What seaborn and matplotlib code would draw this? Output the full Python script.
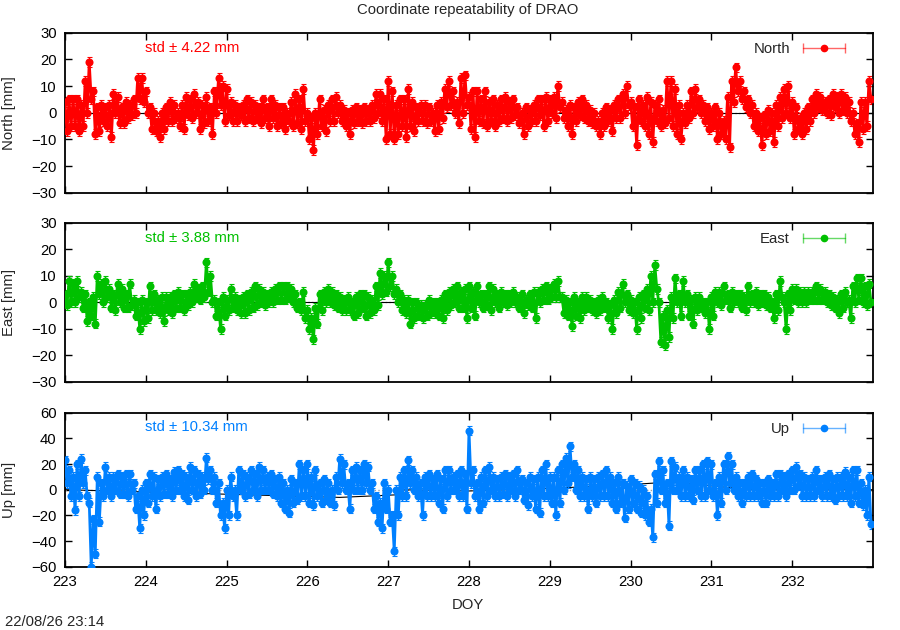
import numpy as np
import pandas as pd
import matplotlib
matplotlib.use('Agg')
import matplotlib.pyplot as plt
import seaborn as sns
from matplotlib.lines import Line2D
from matplotlib.legend_handler import HandlerLine2D, HandlerTuple

# sample bins of 0.05 day, upper / lower values of the band read per bin (mm)
day_start, day_step = 223.0, 0.05

north_hi = [4, 5, 5, 5, 3, 12, 19, 8, 2, 3, 2, 3, 7, 6, 2, 4, 3, 5, 13, 13,
            8, 2, 0, -3, 0, 2, 4, 3, 0, 3, 6, 5, 7, 4, 3, 6, 2, 8, 13, 10,
            9, 4, 3, 2, 3, 5, 4, 3, 2, 5, 2, 5, 3, 2, 2, 0, 4, 7, 5, 9,
            0, -2, 0, 5, 1, 3, 5, 6, 3, 1, 0, 1, 2, 1, 2, 1, 3, 7, 7, 5,
            12, 8, 3, 5, 5, 9, 4, 2, 3, 3, 2, 0, 3, 4, 9, 12, 8, 4, 13, 14,
            6, 8, 8, 5, 8, 4, 5, 3, 5, 6, 4, 5, 2, 0, 2, 1, 3, 5, 5, 6,
            5, 6, 10, 4, 1, 3, 2, 4, 5, 3, 1, 0, -3, 0, 2, 1, 3, 5, 7, 10,
            4, 2, 5, 3, 6, 4, 3, 5, 1, 12, 12, 9, 3, 0, 3, 8, 9, 5, 3, 2,
            0, 2, 0, -3, 6, 12, 17, 12, 8, 5, 3, 0, -2, -1, 1, 0, 3, 6, 9, 10,
            4, 2, -2, 0, 2, 5, 7, 6, 4, 5, 7, 6, 7, 6, 4, 0, -4, 4, 4, 12]
north_lo = [-7, -5, -5, -7, -5, 0, 5, -8, -7, -3, -5, -9, 0, -4, -4, -2, -1, 0, 5, 4,
            0, -6, -7, -9, -6, -3, -3, -2, -5, -6, -1, -2, 0, -6, -4, -3, -8, 0, 3, -3,
            -1, -3, -3, -1, -3, -2, -3, -2, -4, -2, -5, -2, -5, -4, -6, -3, -5, -4, -6, -3,
            -10, -14, -8, -5, -7, -3, -3, 0, -3, -5, -8, -4, -3, -4, -3, -3, -2, 0, -3, -10,
            -8, -10, -8, -5, -9, -5, -7, -3, -3, -4, -3, -7, -6, -2, 2, 3, 0, -4, 0, 3,
            -6, -9, -3, -4, -5, -3, -5, -3, -2, -3, -2, -1, -4, -8, -5, -3, -3, -1, -5, -3,
            0, -2, 2, -2, -5, -8, -3, -1, -2, -3, -4, -5, -8, -5, -3, -7, -2, -2, 0, 3,
            -5, -12, -3, -5, -8, -11, -3, -5, -4, -2, -5, -8, -10, -4, -2, 0, 2, 0, -3, -6,
            -5, -10, -8, -10, -13, 4, 8, 5, 2, 0, -5, -7, -12, -8, -7, -11, -5, -2, 0, -2,
            -8, -6, -8, -6, -3, 0, 2, 1, 0, -1, 2, 0, 1, 0, -3, -8, -11, -6, -5, 5]

east_hi = [3, 8, 7, 8, 4, 3, 0, 2, 10, 7, 8, 5, 3, 7, 5, 3, 7, 1, 0, 1,
           0, 6, 3, 1, 2, 2, 2, 3, 4, 3, 3, 4, 7, 5, 6, 15, 10, 1, 0, 2,
           1, 5, 2, 1, 2, 3, 4, 6, 5, 4, 3, 4, 5, 6, 6, 6, 5, 3, 0, 4,
           -3, -6, -2, 3, 4, 5, 4, 3, 2, 1, 2, 0, 2, 3, 3, 2, 1, 6, 11, 10,
           15, 10, 5, 3, 1, 1, 0, 0, -1, -1, 1, 0, 0, 1, 3, 4, 5, 6, 4, 5,
           6, 4, 6, 3, 3, 6, 5, 3, 4, 3, 3, 4, 2, 3, 1, 3, 4, 4, 5, 6,
           5, 7, 8, 2, 1, 0, 2, 0, 2, 2, 1, 0, 1, 2, 0, -1, 1, 4, 7, 3,
           1, 0, 2, 3, 5, 10, 14, 0, -5, -3, 2, 9, 3, 8, 3, 1, 2, 2, 0, 0,
           2, 4, 4, 6, 3, 4, 3, 3, 2, 6, 3, 4, 3, 3, 2, 0, 3, 8, 0, 3,
           5, 5, 4, 4, 4, 4, 6, 5, 4, 3, 2, 1, 3, 4, 1, 6, 9, 9, 6, 7]
east_lo = [-1, 0, 0, 2, -2, -7, -5, -8, 3, 0, 2, -2, -3, 0, -2, -2, -1, -5, -10, -7,
           -6, -3, -3, -4, -7, -3, -4, -2, -2, -3, -1, 0, 2, 1, 2, 4, 0, -5, -10, -5,
           -3, -2, -3, -4, -4, -3, -2, -1, 0, -1, 0, 0, 1, 1, 1, 2, 0, -2, -3, -6,
           -10, -14, -8, -3, 0, 0, -1, -2, -3, -3, -3, -5, -4, -2, -5, -4, -3, -1, 3, 4,
           6, 3, 0, -3, -4, -8, -6, -5, -6, -5, -4, -4, -5, -6, -3, -1, 0, -2, -2, -6,
           -2, -5, 0, -2, -1, -3, 0, -2, 0, -1, 0, 0, -2, -4, -1, -2, -6, 0, 1, 1,
           2, 2, 2, -4, -5, -9, -5, -6, -3, -2, -3, -4, -3, -2, -6, -10, -4, -2, 0, -3,
           -4, -10, -6, -2, -3, 0, 5, -15, -16, -13, -6, 0, -5, 0, -5, -8, -3, -2, -4, -10,
           -5, 0, -1, 1, -2, 0, 0, -2, -3, 0, 0, -1, 0, -1, -2, -6, -3, 2, -10, -3,
           1, 0, 0, 0, 1, 1, 1, 1, 0, -1, -2, -4, -2, 0, -6, 0, 1, 0, -1, 0]

up_hi = [23, 15, 10, 20, 24, 15, -10, -23, 10, 5, 18, 10, 10, 12, 10, 12, 12, 5, -5, 0,
         5, 12, 10, 8, 10, 12, 8, 14, 15, 12, 10, 18, 15, 12, 10, 25, 15, 10, 5, -10,
         0, 10, 0, 15, 12, 10, 15, 12, 18, 15, 10, 12, 8, 10, 5, 0, 8, 5, 20, 15,
         20, 10, 15, 5, 8, 5, 0, 10, 24, 20, 5, 15, 18, 15, 20, 18, 5, -5, -10, 5,
         0, -20, 0, 10, 15, 23, 15, 10, 5, 10, 12, 8, 12, 8, 15, 15, 10, 12, 15, 12,
         46, 15, 5, 10, 15, 18, 10, 8, 10, 12, 10, 12, 15, 8, 5, 10, 8, 10, 15, 20,
         10, 10, 15, 20, 25, 34, 20, 15, 10, 8, 10, 8, 10, 12, 15, 10, 5, 10, 5, 3,
         8, 5, 3, 0, -5, -15, 12, 22, 15, 5, 22, 18, 10, 15, 10, 8, 15, 15, 20, 22,
         20, 5, 10, 20, 26, 20, 10, 5, 5, 10, 12, 8, 5, 5, 8, 5, 12, 12, 10, 12,
         15, 18, 12, 10, 8, 10, 15, 8, 10, 12, 8, 10, 10, 14, 10, 15, 15, 5, 0, 10]
up_lo = [5, -5, -16, -5, 5, -5, -60, -50, -25, -5, 0, -5, 0, -3, -3, -5, 0, -15, -30, -20,
         -10, -5, -15, -5, -3, -3, -5, 0, 0, -5, -8, 0, -5, -3, 0, 8, 0, -10, -20, -30,
         -20, -5, -20, 0, -5, -3, 0, -5, 0, 0, 0, -3, -5, -10, -15, -18, -10, -8, -5, -5,
         -10, -12, -5, -10, -8, -10, -12, 0, 5, 0, -15, 0, 0, 0, 5, 0, -15, -25, -30, -15,
         -25, -48, -20, -5, -5, 5, 0, -5, -20, -5, -5, -5, -10, -15, -5, 0, 0, -5, -5, -15,
         5, -5, -15, -10, -5, 0, -5, -5, -3, -5, 0, -5, 0, -8, -12, -5, -15, -18, -5, -5,
         -10, -20, -10, 0, 5, 10, 0, -5, -5, -15, -5, -10, -5, -5, -5, -10, -15, -10, -22, -15,
         -10, -15, -18, -20, -25, -37, -10, 0, -10, -28, 0, 0, -5, -5, -5, -8, 0, -5, -5, 0,
         -5, -20, -10, 0, 5, 0, -5, -10, -5, -5, -5, -5, -10, -10, -5, -5, -5, 0, -5, 0,
         0, 3, -5, -5, -5, -5, 0, -5, -5, -5, -8, -5, -5, -5, -10, -5, -10, -12, -20, -27]

# formal errors (mm) and std values from the plot
north_err, east_err, up_err = 1.8, 1.8, 3.5
north_std, east_std, up_std = 4.22, 3.88, 10.34

# black trend line knots
north_trend_x = [223, 233]
north_trend_y = [0, 0]
east_trend_x = [223, 233]
east_trend_y = [0, 0]
up_trend_x = [223, 226.4, 227.1, 227.12, 228, 229, 230, 230.5, 231, 231.5, 233]
up_trend_y = [0, -6, -4, 0, -1, 1, 4, 6, 3, 0, 0]

xticks = list(range(223, 233))
FS = 10.7


def make_frame(hi, lo):
    # interleave upper / lower readings to get one trace
    n = len(hi)
    t = day_start + day_step * np.arange(n)
    doy = np.column_stack([t, t + day_step / 2]).ravel()
    mm = np.column_stack([hi, lo]).ravel()
    return pd.DataFrame({'doy': doy, 'mm': mm})


sns.set_theme(style='ticks')
plt.rcParams['font.family'] = ['Liberation Sans', 'DejaVu Sans']

fig = plt.figure(figsize=(9, 6.3), dpi=100)

panels = [
    ('North', north_hi, north_lo, north_err, north_std, '#ff0000', (-30, 30), range(-30, 31, 10),
     north_trend_x, north_trend_y, [0.0722, 0.6941, 0.8978, 0.2540]),
    ('East', east_hi, east_lo, east_err, east_std, '#00c000', (-30, 30), range(-30, 31, 10),
     east_trend_x, east_trend_y, [0.0722, 0.3937, 0.8978, 0.2529]),
    ('Up', up_hi, up_lo, up_err, up_std, '#0080ff', (-60, 60), range(-60, 61, 20),
     up_trend_x, up_trend_y, [0.0722, 0.1005, 0.8978, 0.2444]),
]

for i, (name, hi, lo, err, std, col, ylim, yt, tx, ty, rect) in enumerate(panels):
    ax = fig.add_axes(rect)
    df = make_frame(hi, lo)

    ax.axhline(0, color='#a0a0a0', ls=':', lw=1, zorder=1)
    ax.plot(tx, ty, color='black', lw=0.8, zorder=1.5)

    ax.errorbar(df['doy'], df['mm'], yerr=err, fmt='none', ecolor=col,
                elinewidth=0.8, capsize=1.8, capthick=0.8, zorder=2)
    sns.lineplot(data=df, x='doy', y='mm', estimator=None, sort=False, ax=ax,
                 color=col, lw=2.0, marker='o', markersize=5.8,
                 markeredgewidth=0, zorder=3, legend=False)

    ax.set_xlim(223, 233)
    ax.set_ylim(*ylim)
    ax.set_yticks(list(yt))
    ax.set_xticks(xticks)
    ax.set_xlabel('')
    ax.set_ylabel(name + ' [mm]', fontsize=FS)
    ax.yaxis.set_label_coords(-0.061, 0.5)
    ax.tick_params(direction='in', top=True, right=True, length=5, width=1,
                   labelsize=FS, pad=6, colors='black')
    if i < 2:
        ax.tick_params(labelbottom=False)
    for sp in ax.spines.values():
        sp.set_visible(True)
        sp.set_color('black')
        sp.set_linewidth(1.3)

    ax.text(0.099, 0.905, 'std \u00b1 %.2f mm' % std, transform=ax.transAxes,
            color=col, fontsize=FS, ha='left', va='center')

    # gnuplot-like key: horizontal bar with caps and a dot in the middle
    bar = Line2D([], [], color=col, lw=1, marker='|', markersize=7, alpha=0.6)
    dot = Line2D([], [], color=col, marker='o', markersize=4.5, ls='none')
    ax.legend([(bar, dot)], [name], loc='upper right', bbox_to_anchor=(0.982, 0.995),
              frameon=False, markerfirst=False, handlelength=3.4, handletextpad=0.6,
              borderaxespad=0.2, fontsize=FS,
              handler_map={tuple: HandlerTuple(ndivide=1, pad=0),
                           bar: HandlerLine2D(numpoints=2),
                           dot: HandlerLine2D(numpoints=1)})

fig.text(0.52, 1 - 10 / 630, 'Coordinate repeatability of DRAO', ha='center', va='center', fontsize=FS)
fig.text(468 / 900, 1 - 605 / 630, 'DOY', ha='center', va='center', fontsize=FS)
fig.text(5 / 900, 1 - 622 / 630, '22/08/26 23:14', ha='left', va='center', fontsize=FS)

fig.savefig('out.png', dpi=100)
